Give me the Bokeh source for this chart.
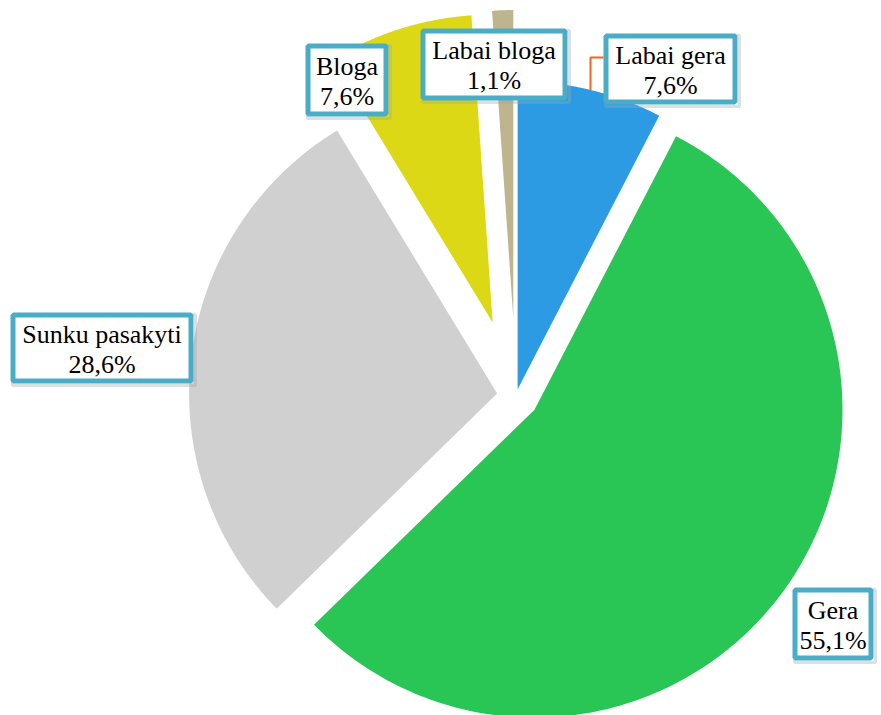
import numpy as np
from bokeh.plotting import figure
from bokeh.models import Range1d
from bokeh.embed import file_html
from bokeh.resources import INLINE
from bokeh.core.properties import value

# ---- data ----
categories = ["Labai gera", "Gera", "Sunku pasakyti", "Bloga", "Labai bloga"]
percent = [7.6, 55.1, 28.6, 7.6, 1.1]
pct_labels = ["7,6%", "55,1%", "28,6%", "7,6%", "1,1%"]

# ---- style / layout ----
colors = ["#2D9BE4", "#2AC655", "#D0D0D0", "#DDD816", "#BEB58E"]
CX, CY, R = 515.5, 395.5, 308          # pie centre (screen px) and radius
explode = [7, 23, 19, 77, 78]           # per-slice explosion, px
box_center = [(670, 68.5), (832.5, 623.5), (101.5, 347.5), (346.5, 79.5), (493.5, 64)]
box_size = [(134, 71), (81, 73), (183, 71), (83, 73), (147, 72)]
BORDER = "#4BACC6"
FONT = value("Liberation Serif")
W, H = 881, 715

p = figure(width=W, height=H, x_range=Range1d(0, W), y_range=Range1d(H, 0),
           output_backend="svg", toolbar_location=None, min_border=0,
           x_axis_location=None, y_axis_location=None)
p.grid.visible = False
p.outline_line_color = None
p.background_fill_color = "white"

total = sum(percent)
cum = np.concatenate([[0], np.cumsum(percent)]) / total * 2 * np.pi
xs, ys, apex = [], [], []
for i in range(len(percent)):
    a0, a1 = cum[i], cum[i + 1]
    mid = (a0 + a1) / 2
    ax = CX + explode[i] * np.sin(mid)
    ay = CY - explode[i] * np.cos(mid)
    apex.append((ax, ay, mid))
    th = np.linspace(a0, a1, 200)
    xs.append(np.concatenate([[ax], ax + R * np.sin(th)]).tolist())
    ys.append(np.concatenate([[ay], ay - R * np.cos(th)]).tolist())

p.patches(xs, ys, fill_color=colors, line_color=None)

# leader line for the first slice
ax, ay, mid = apex[0]
sx, sy = ax + R * np.sin(mid), ay - R * np.cos(mid)
bcx, bcy = box_center[0]
bw, bh = box_size[0]
p.line([sx, sx, bcx - bw / 2], [sy, bcy - 11.5, bcy - 11.5], line_color="#F26522", line_width=2)

# label boxes
bx = [c[0] for c in box_center]
by = [c[1] for c in box_center]
p.rect([x + 2 for x in bx], [y + 2 for y in by], width=[s[0] for s in box_size],
       height=[s[1] for s in box_size], fill_color=None, line_color="#9aa5a8", line_alpha=0.35, line_width=3)
p.rect(bx, by, width=[s[0] - 5 for s in box_size], height=[s[1] - 5 for s in box_size],
       fill_color="white", line_color=BORDER, line_width=5)

p.text(bx, [y - 14 for y in by], text=categories, text_font=FONT, text_font_size="26px",
       text_align="center", text_baseline="alphabetic", text_color="black")
p.text(bx, [y + 16 for y in by], text=pct_labels, text_font=FONT, text_font_size="26px",
       text_align="center", text_baseline="alphabetic", text_color="black")

open("out.html", "w").write(file_html(p, INLINE))
